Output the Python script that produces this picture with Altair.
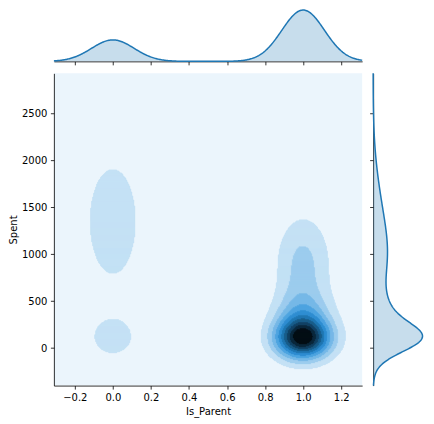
import colorsys
import numpy as np
import pandas as pd
import altair as alt

# ---- data ----
IS_PARENT = [0, 1]
GROUP_SHARE = [0.295, 0.705]
# Spent clusters for each Is_Parent group (mean, sd, weight)
SPENT_MEAN = [[115, 1350], [100, 280, 900]]
SPENT_SD = [[179, 471], [145, 220, 360]]
SPENT_W = [[0.22, 0.78], [0.42, 0.29, 0.29]]
X_BW_JOINT = 0.10
X_BW_MARG = 0.112
FIRST_LEVEL = 0.088       # lowest contour as a fraction of the peak density
N_BANDS = 11
X_TICKS = [-0.2, 0.0, 0.2, 0.4, 0.6, 0.8, 1.0, 1.2]
Y_TICKS = [0, 500, 1000, 1500, 2000, 2500]
X_DOM = [-0.31, 1.31]
Y_DOM = [-400, 2930]
BASE = "#1f77b4"
FONT = "DejaVu Sans"


def gauss(v, m, s):
    return np.exp(-0.5 * ((v - m) / s) ** 2) / (s * np.sqrt(2 * np.pi))


def y_dens(g, y):
    return sum(w * gauss(y, m, s) for m, s, w in zip(SPENT_MEAN[g], SPENT_SD[g], SPENT_W[g]))


# ---- joint density grid -> contour bands ----
NX, NY = 309, 313
xe = np.linspace(X_DOM[0], X_DOM[1], NX + 1)
ye = np.linspace(Y_DOM[0], Y_DOM[1], NY + 1)
xc = (xe[:-1] + xe[1:]) / 2
yc = (ye[:-1] + ye[1:]) / 2
Z = np.zeros((NY, NX))
for g, share in zip(IS_PARENT, GROUP_SHARE):
    Z += share * np.outer(y_dens(g, yc), gauss(xc, g, X_BW_JOINT))
band = np.clip(np.floor(Z / (FIRST_LEVEL * Z.max())), 0, N_BANDS - 1).astype(int)

rows = []
for j in range(NY):
    i0 = 0
    for i in range(1, NX + 1):
        if i == NX or band[j, i] != band[j, i0]:
            if band[j, i0] > 0:
                rows.append(dict(x0=xe[i0], x1=xe[i], y0=ye[j], y1=ye[j + 1], band=int(band[j, i0])))
            i0 = i
cells = pd.DataFrame(rows)

# ---- colour map: white -> base hue -> black ----
r, g_, b = [int(BASE[k:k + 2], 16) / 255 for k in (1, 3, 5)]
h, l, s = colorsys.rgb_to_hls(r, g_, b)
pal = np.array([colorsys.hls_to_rgb(h, lv, s) for lv in np.linspace(1, 0, 12)])


def cmap(t):
    p = t * (len(pal) - 1)
    k = min(int(np.floor(p)), len(pal) - 2)
    f = p - k
    c = pal[k] * (1 - f) + pal[k + 1] * f
    return "#%02x%02x%02x" % tuple(int(round(v * 255)) for v in np.clip(c, 0, 1))


band_colors = [cmap((i + 0.5) / N_BANDS) for i in range(N_BANDS)]

# ---- marginals ----
xs = np.linspace(X_DOM[0], X_DOM[1], 400)
dx = sum(sh * gauss(xs, g, X_BW_MARG) for g, sh in zip(IS_PARENT, GROUP_SHARE))
ys = np.linspace(Y_DOM[0], Y_DOM[1], 400)
dy = sum(sh * y_dens(g, ys) for g, sh in zip(IS_PARENT, GROUP_SHARE))
xm = pd.DataFrame(dict(x=xs, d=dx))
ym = pd.DataFrame(dict(y=ys, d=dy))

ax = dict(labelFont=FONT, titleFont=FONT, labelFontSize=10, titleFontSize=10,
          labelColor="black", titleColor="black", domainColor="black", tickColor="black",
          domainWidth=0.8, tickWidth=0.8, tickSize=3.5, labelPadding=3.5, grid=False,
          titleFontWeight="normal")

xscale = alt.Scale(domain=X_DOM, nice=False, zero=False)
yscale = alt.Scale(domain=Y_DOM, nice=False, zero=False)
cscale = alt.Scale(domain=list(range(N_BANDS)), range=band_colors)

heat = alt.Chart(cells).mark_rect(strokeWidth=1).encode(
    x=alt.X("x0:Q", scale=xscale,
            axis=alt.Axis(values=X_TICKS, title="Is_Parent", titlePadding=4,
                          labelExpr="replace(format(datum.value, '.1f'), '-', '\u2212')", **ax)),
    x2="x1:Q",
    y=alt.Y("y0:Q", scale=yscale,
            axis=alt.Axis(values=Y_TICKS, title="Spent", format="d", titlePadding=3, **ax)),
    y2="y1:Q",
    color=alt.Color("band:O", scale=cscale, legend=None),
    stroke=alt.Stroke("band:O", scale=cscale, legend=None),
).properties(width=309, height=313,
             view=alt.ViewBackground(fill=band_colors[0], strokeWidth=0))

top_base = alt.Chart(xm).encode(
    x=alt.X("x:Q", scale=xscale, axis=alt.Axis(values=X_TICKS, labels=False, title=None, **ax)),
    y=alt.Y("d:Q", scale=alt.Scale(domain=[0, float(dx.max()) * 1.05], nice=False), axis=None),
)
top = (top_base.mark_area(color=BASE, opacity=0.25)
       + top_base.mark_line(color=BASE, strokeWidth=1.5)).properties(
    width=309, height=54, view=alt.ViewBackground(fill="white", strokeWidth=0))

right_base = alt.Chart(ym).encode(
    y=alt.Y("y:Q", scale=yscale, axis=alt.Axis(values=Y_TICKS, labels=False, title=None, **ax)),
    x=alt.X("d:Q", scale=alt.Scale(domain=[0, float(dy.max()) * 1.05], nice=False), axis=None),
)
right = (right_base.mark_area(color=BASE, opacity=0.25, orient="horizontal")
         + right_base.mark_line(color=BASE, strokeWidth=1.5).encode(order=alt.Order("y:Q"))
         ).properties(width=52, height=313, view=alt.ViewBackground(fill="white", strokeWidth=0))

chart = alt.vconcat(
    top,
    alt.hconcat(heat, right, spacing=11, bounds="flush"),
    spacing=12, bounds="flush",
    padding={"top": -2, "left": 0, "right": 0, "bottom": 4},
).configure_view(strokeWidth=0).configure(background="white")

chart.save("out.html", embed_options={"renderer": "svg", "actions": False})
